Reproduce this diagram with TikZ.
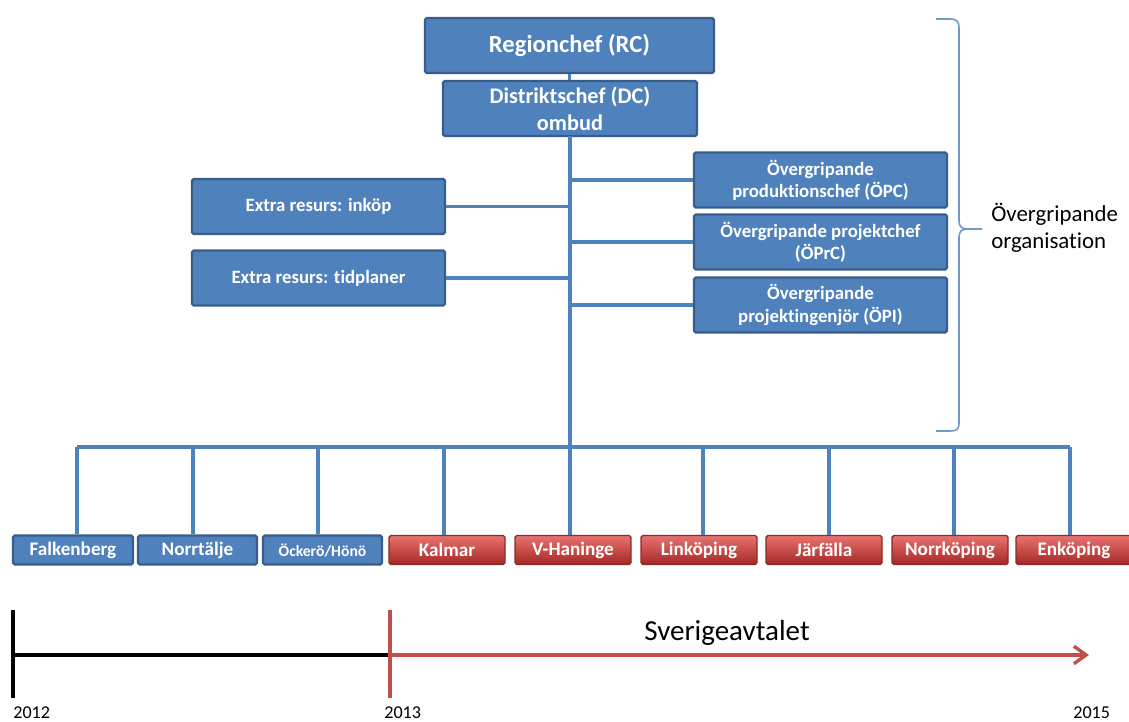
\documentclass[tikz,border=0pt]{standalone}
\usepackage{fontspec}
\setmainfont{Carlito}[Ligatures=NoCommon]
\usetikzlibrary{arrows.meta}
\definecolor{bfill}{HTML}{4F81BD}
\definecolor{bdraw}{HTML}{385D8A}
\definecolor{rtop}{HTML}{E8736F}
\definecolor{rmid}{HTML}{D03D3A}
\definecolor{rbot}{HTML}{A52725}
\definecolor{rdraw}{HTML}{8C2A28}
\definecolor{tred}{HTML}{C0504D}
\definecolor{conn}{HTML}{4F81BD}
\definecolor{bracec}{HTML}{6F98CF}
\begin{document}
\begin{tikzpicture}[x=0.02cm,y=-0.02cm,
 bbox/.style={draw=bdraw, fill=bfill, line width=1.3pt, rounded corners=1pt, text=white, font=\bfseries, align=center, inner sep=0pt},
 rbox/.style={draw=rdraw, top color=rtop, middle color=rmid, bottom color=rbot, line width=0.8pt, rounded corners=1pt, text=white, font=\bfseries\fontsize{10.9}{12}\selectfont, inner sep=0pt, minimum width=116*0.02cm, minimum height=29*0.02cm},
 lbox/.style={bbox, font=\bfseries\fontsize{10.9}{12}\selectfont, minimum width=119*0.02cm, minimum height=29*0.02cm},
 mbox/.style={bbox, font=\bfseries\fontsize{10.7}{12.7}\selectfont, minimum width=253*0.02cm, minimum height=55*0.02cm},
 link/.style={draw=conn, line width=1.9pt},
 yearlbl/.style={anchor=base west, inner sep=0pt, font=\fontsize{10.3}{12}\selectfont},
]
\useasboundingbox (0,0) rectangle (1129,722);

% top
\node[bbox, minimum width=289*0.02cm, minimum height=55*0.02cm, font=\bfseries\fontsize{14}{16}\selectfont] (rc) at (569.5,45.5) {Regionchef (RC)};
\node[bbox, minimum width=254*0.02cm, minimum height=55*0.02cm, font=\bfseries\fontsize{12.7}{15.2}\selectfont] (dc) at (570,108.5) {Distriktschef (DC)\\ombud};

% side boxes
\node[mbox] (opc) at (820.5,180) {Övergripande\\produktionschef (ÖPC)};
\node[mbox] (oprc) at (820.5,242) {Övergripande projektchef\\(ÖPrC)};
\node[mbox] (opi) at (820.5,305) {Övergripande\\projektingenjör (ÖPI)};
\node[mbox] (er1) at (318.5,206.5) {Extra resurs: inköp};
\node[mbox] (er2) at (318.5,278) {Extra resurs: tidplaner};

% bottom row
\node[lbox, minimum width=120*0.02cm] (falk) at (73,550) {Falkenberg};
\node[lbox] (norr) at (197.5,550) {Norrtälje};
\node[lbox, font=\bfseries\fontsize{8.9}{10}\selectfont] (ock) at (322.5,550) {Öckerö/Hönö};
\node[rbox] (kalm) at (447,550) {Kalmar};
\node[rbox] (vhan) at (573,550) {V-Haninge};
\node[rbox] (link) at (699,550) {Linköping};
\node[rbox] (jarf) at (824,550) {Järfälla};
\node[rbox] (nrkp) at (950,550) {Norrköping};
\node[rbox] (enk) at (1074,550) {Enköping};

% connectors
\coordinate (mtop) at (570,136);
\coordinate (bus) at (570,447);
\draw[link] (rc.south) -- (rc.south |- dc.north);
\draw[link] (mtop) -- (bus);
\draw[link] (opc.west) -- (opc.west -| mtop);
\draw[link] (oprc.west) -- (oprc.west -| mtop);
\draw[link] (opi.west) -- (opi.west -| mtop);
\draw[link] (er1.east) -- (er1.east -| mtop);
\draw[link] (er2.east) -- (er2.east -| mtop);

\coordinate (d1) at (77,447);
\coordinate (d2) at (193,447);
\coordinate (d3) at (318,447);
\coordinate (d4) at (444,447);
\coordinate (d5) at (570,447);
\coordinate (d6) at (703,447);
\coordinate (d7) at (829,447);
\coordinate (d8) at (954,447);
\coordinate (d9) at (1070,447);
\draw[link] (d1) -- (d9);
\draw[link] (d1) -- (d1 |- falk.north);
\draw[link] (d2) -- (d2 |- norr.north);
\draw[link] (d3) -- (d3 |- ock.north);
\draw[link] (d4) -- (d4 |- kalm.north);
\draw[link] (d5) -- (d5 |- vhan.north);
\draw[link] (d6) -- (d6 |- link.north);
\draw[link] (d7) -- (d7 |- jarf.north);
\draw[link] (d8) -- (d8 |- nrkp.north);
\draw[link] (d9) -- (d9 |- enk.north);

% brace
\draw[bracec, line width=0.9pt] (936,19) -- (950,19) .. controls (957,19) and (959,22) .. (959,28)
  -- (959,221) .. controls (959,227) and (962,229) .. (968,229) -- (982,229)
  (968,229) .. controls (962,229) and (959,231) .. (959,237)
  -- (959,423) .. controls (959,429) and (957,431) .. (950,431) -- (936,431);
\node[anchor=west, align=left, inner sep=0pt, font=\fontsize{13}{15.5}\selectfont] (org) at (991,228) {Övergripande\\organisation};

% timeline
\coordinate (a0) at (13,610);
\coordinate (a1) at (13,698);
\coordinate (b0) at (390,610);
\coordinate (b1) at (390,698);
\coordinate (la) at (13,655);
\coordinate (lb) at (390,655);
\coordinate (lc) at (1089,655);
\draw[black, line width=2.1pt] (a0) -- (a1);
\draw[black, line width=2.1pt] (la) -- (lb);
\draw[tred, line width=1.9pt] (b0) -- (b1);
\draw[tred, line width=1.9pt, -{Straight Barb[length=7pt,width=10pt]}] (lb) -- (lc);
\node[font=\fontsize{16.5}{19}\selectfont, inner sep=0pt] (sv) at (727,633) {Sverigeavtalet};
\node[yearlbl] (y12) at (13,718) {2012};
\node[yearlbl] (y13) at (384,718) {2013};
\node[yearlbl] (y15) at (1073,718) {2015};
\end{tikzpicture}
\end{document}
